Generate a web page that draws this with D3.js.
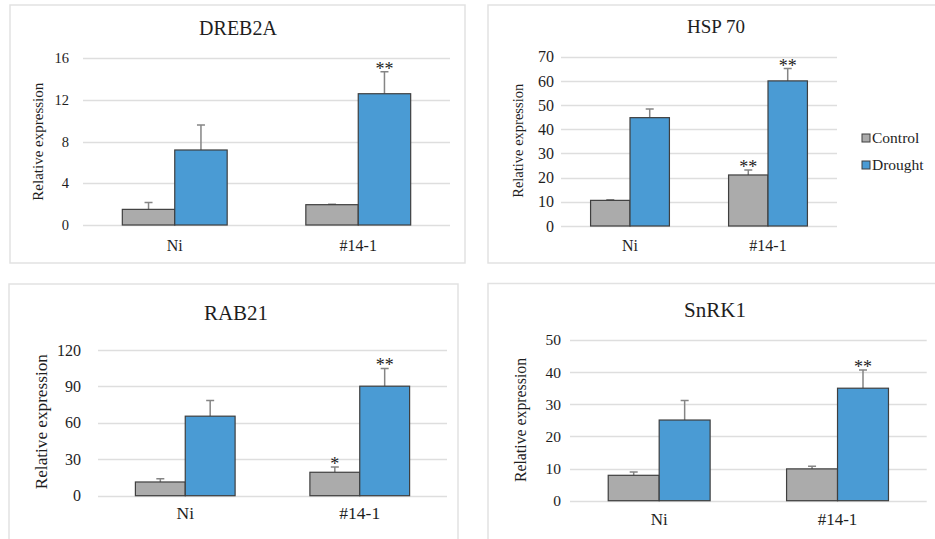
<!DOCTYPE html>
<html>
<head>
<meta charset="utf-8">
<script src="https://cdn.jsdelivr.net/npm/d3@7"></script>
<style>
  body { margin: 0; background: #fff; }
  svg text { font-family: "Liberation Serif", "Times New Roman", Times, "DejaVu Serif", "Noto Serif", serif; fill: #1e1e1e; }
</style>
</head>
<body>
<div id="chart"></div>
<script>
////////////////////////////////////////////////////////////////////////
// Data

let genes = ["DREB2A", "HSP 70", "RAB21", "SnRK1"];
let lines = ["Ni", "#14-1"];
let series = ["Control", "Drought"];

// mean value per gene, one entry per line (Ni, #14-1)
let controlMean = [[1.5, 1.95], [10.6, 21.1], [11.3, 19.3], [7.9, 9.9]];
let controlErr  = [[0.65, 0.05], [0.3, 2.1], [2.7, 4.4], [1.0, 0.8]];
let droughtMean = [[7.2, 12.6], [44.8, 60.0], [65.5, 90.2], [25.1, 35.0]];
let droughtErr  = [[2.4, 2.1], [3.6, 5.1], [13.0, 14.6], [6.1, 5.7]];

// significance marks above the bars
let controlSig = [["", ""], ["", "**"], ["", "*"], ["", ""]];
let droughtSig = [["", "**"], ["", "**"], ["", "**"], ["", "**"]];

// y axis ranges and tick steps
let yMax = [16, 70, 120, 50];
let yStep = [4, 10, 30, 10];

let yTitle = "Relative expression";

////////////////////////////////////////////////////////////////////////
// Layout of the four panels (pixels)

let fontStack = "'Liberation Serif', 'Times New Roman', Times, 'DejaVu Serif', serif";

let panels = [
  { box: [10, 5, 465, 263], plot: [83, 58.3, 450, 225], title: [238, 35, 20],
    tickFont: 14.5, tickGap: 14, xFont: 16, xDrop: 26, yt: [38, 141.7, 15] },
  { box: [488, 5, 945, 263], plot: [561, 56.7, 837, 226], title: [716, 33, 19],
    tickFont: 16, tickGap: 7, xFont: 16, xDrop: 24.5, yt: [518, 140.8, 14.5], legend: [862, 134, 15.5] },
  { box: [9, 284, 458, 560], plot: [98, 350, 447, 495.7], title: [236, 320, 21],
    tickFont: 16, tickGap: 17, xFont: 17.5, xDrop: 23, yt: [41, 421.7, 17.2] },
  { box: [488, 283.5, 945, 560], plot: [570, 340, 926.7, 500.7], title: [715, 316.7, 21],
    tickFont: 15.5, tickGap: 9, xFont: 17, xDrop: 24.5, yt: [520, 420, 15.8] }
];

let colors = { "Control": "#ababab", "Drought": "#4a9bd4" };

let width = 935;
let height = 539;

let svg = d3.select("#chart")
  .append("svg")
  .attr("width", width).attr("height", height)
  .attr("font-family", fontStack);

////////////////////////////////////////////////////////////////////////
// Draw each panel

genes.forEach(function(gene, gi) {
  let p = panels[gi];
  let g = svg.append("g").attr("class", "panel");

  // panel frame
  g.append("rect")
    .attr("x", p.box[0]).attr("y", p.box[1])
    .attr("width", p.box[2] - p.box[0]).attr("height", p.box[3] - p.box[1])
    .attr("fill", "#fff")
    .attr("stroke", "#e2e2e2")
    .attr("stroke-width", 1.5);

  let yScale = d3.scaleLinear()
    .domain([0, yMax[gi]])
    .range([p.plot[3], p.plot[1]]);

  let xScale = d3.scaleBand()
    .domain(lines)
    .range([p.plot[0], p.plot[2]])
    .paddingInner(0.4286)
    .paddingOuter(0.2143);

  let sScale = d3.scaleBand()
    .domain(series)
    .range([0, xScale.bandwidth()]);

  let ticks = d3.range(0, yMax[gi] + yStep[gi] / 2, yStep[gi]);

  // gridlines
  g.append("g")
    .selectAll("line")
    .data(ticks)
    .enter()
    .append("line")
    .attr("x1", p.plot[0]).attr("x2", p.plot[2])
    .attr("y1", function(d) { return Math.round(yScale(d)) + 0.5; })
    .attr("y2", function(d) { return Math.round(yScale(d)) + 0.5; })
    .attr("stroke", "#dedede")
    .attr("stroke-width", 1.3);

  // y axis labels
  let yAxis = d3.axisLeft(yScale)
    .tickValues(ticks)
    .tickSize(0)
    .tickPadding(p.tickGap);
  let ya = g.append("g")
    .attr("transform", "translate(" + p.plot[0] + ",0)")
    .call(yAxis)
    .attr("font-family", fontStack);
  ya.select(".domain").remove();
  ya.selectAll("text")
    .style("font-size", p.tickFont + "px")
    .attr("fill", "#1e1e1e");

  // x axis labels
  let xAxis = d3.axisBottom(xScale).tickSize(0);
  let xa = g.append("g")
    .attr("transform", "translate(0," + p.plot[3] + ")")
    .call(xAxis)
    .attr("font-family", fontStack);
  xa.select(".domain").remove();
  xa.selectAll("text")
    .attr("y", p.xDrop).attr("dy", null)
    .style("font-size", p.xFont + "px")
    .attr("fill", "#1e1e1e");

  // rows for the bars
  let rows = [];
  lines.forEach(function(line, li) {
    rows.push({ line: line, s: "Control", v: controlMean[gi][li], e: controlErr[gi][li], sig: controlSig[gi][li] });
    rows.push({ line: line, s: "Drought", v: droughtMean[gi][li], e: droughtErr[gi][li], sig: droughtSig[gi][li] });
  });

  function bx(d) { return xScale(d.line) + sScale(d.s); }
  function cx(d) { return bx(d) + sScale.bandwidth() / 2; }

  // error bars (plus direction only)
  g.append("g")
    .selectAll(".errbar")
    .data(rows)
    .enter()
    .append("path")
    .attr("class", "errbar")
    .attr("d", function(d) {
      let x = cx(d), y0 = yScale(d.v), y1 = yScale(d.v + d.e);
      return "M" + x + "," + y0 + "V" + y1 + "M" + (x - 4) + "," + y1 + "H" + (x + 4);
    })
    .attr("fill", "none")
    .attr("stroke", "#858585")
    .attr("stroke-width", 1.5);

  // bars
  g.append("g")
    .selectAll(".bar")
    .data(rows)
    .enter()
    .append("rect")
    .attr("class", "bar")
    .attr("x", bx)
    .attr("y", function(d) { return yScale(d.v); })
    .attr("width", sScale.bandwidth())
    .attr("height", function(d) { return yScale(0) - yScale(d.v); })
    .attr("fill", function(d) { return colors[d.s]; })
    .attr("stroke", "#3f3f3f")
    .attr("stroke-width", 1.2);

  // significance stars
  g.append("g")
    .selectAll(".sig")
    .data(rows.filter(function(d) { return d.sig !== ""; }))
    .enter()
    .append("text")
    .attr("class", "sig")
    .attr("x", cx)
    .attr("y", function(d) { return yScale(d.v + d.e) + 3; })
    .attr("text-anchor", "middle")
    .style("font-size", "18px")
    .text(function(d) { return d.sig; });

  // title
  g.append("text")
    .attr("x", p.title[0]).attr("y", p.title[1])
    .attr("text-anchor", "middle")
    .style("font-size", p.title[2] + "px")
    .text(gene);

  // y axis title
  g.append("text")
    .attr("transform", "translate(" + p.yt[0] + "," + p.yt[1] + ") rotate(-90)")
    .attr("text-anchor", "middle")
    .attr("dy", "0.35em")
    .style("font-size", p.yt[2] + "px")
    .text(yTitle);

  // legend
  if (p.legend) {
    let lg = g.append("g")
      .attr("transform", "translate(" + p.legend[0] + "," + p.legend[1] + ")");
    let item = lg.selectAll(".item")
      .data(series)
      .enter()
      .append("g")
      .attr("class", "item")
      .attr("transform", function(d, i) { return "translate(0," + (i * 27) + ")"; });
    item.append("rect")
      .attr("width", 8).attr("height", 8)
      .attr("fill", function(d) { return colors[d]; })
      .attr("stroke", "#3f3f3f")
      .attr("stroke-width", 1);
    item.append("text")
      .attr("x", 10).attr("y", 8.5)
      .style("font-size", p.legend[2] + "px")
      .text(function(d) { return d; });
  }
});
</script>
</body>
</html>
